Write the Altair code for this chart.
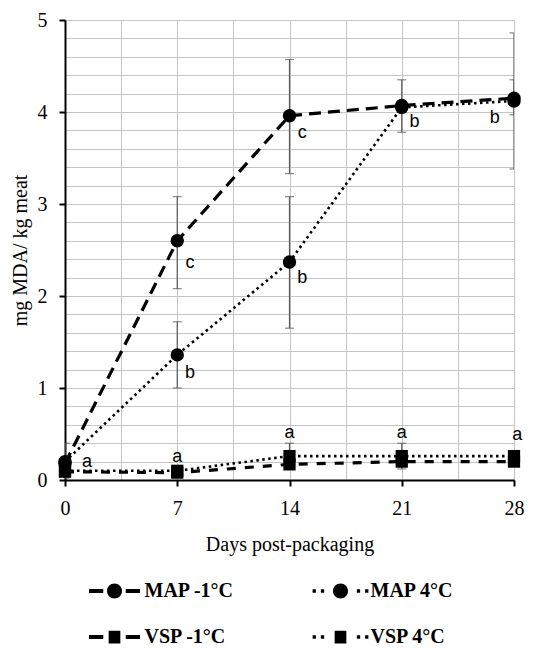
import altair as alt
import pandas as pd

# ---------------- data ----------------
days = [0, 7, 14, 21, 28]
series_names = ["MAP -1°C", "MAP 4°C", "VSP -1°C", "VSP 4°C"]
map_m1 = [0.18, 2.60, 3.96, 4.07, 4.15]
map_4 = [0.20, 1.36, 2.37, 4.05, 4.12]
vsp_m1 = [0.09, 0.08, 0.17, 0.20, 0.20]
vsp_4 = [0.10, 0.10, 0.26, 0.26, 0.26]

err_series = ["MAP -1°C", "MAP -1°C", "MAP -1°C", "MAP -1°C", "MAP -1°C",
              "MAP 4°C", "MAP 4°C", "MAP 4°C", "VSP 4°C", "VSP 4°C"]
err_day = [0, 7, 14, 21, 28, 7, 14, 28, 14, 21]
err_low = [0.02, 2.08, 3.33, 3.78, 3.38, 1.00, 1.65, 3.97, 0.12, 0.12]
err_high = [0.40, 3.08, 4.57, 4.35, 4.86, 1.72, 3.08, 4.35, 0.40, 0.40]

let_text = ["a", "a", "a", "a", "a", "c", "b", "c", "b", "b", "b"]
let_day = [1.37, 7.0, 14.0, 21.0, 28.2, 7.8, 7.8, 14.8, 14.8, 21.8, 26.8]
let_val = [0.20, 0.25, 0.51, 0.51, 0.49, 2.36, 1.16, 3.77, 2.20, 3.89, 3.93]

x_grid = [0, 3.5, 7, 10.5, 14, 17.5, 21, 24.5, 28]
y_grid = [0, 0.2, 0.4, 0.6, 0.8, 1, 1.2, 1.4, 1.6, 1.8, 2, 2.2, 2.4, 2.6, 2.8,
          3, 3.2, 3.4, 3.6, 3.8, 4, 4.2, 4.4, 4.6, 4.8, 5]

rows = []
for name, vals in zip(series_names, [map_m1, map_4, vsp_m1, vsp_4]):
    for d, v in zip(days, vals):
        rows.append({"series": name, "day": d, "value": v})
df = pd.DataFrame(rows)
err_df = pd.DataFrame({"series": err_series, "day": err_day, "lo": err_low, "hi": err_high})
let_df = pd.DataFrame({"letter": let_text, "day": let_day, "value": let_val})

SERIF = "Liberation Serif"

# legend symbols (custom paths, unit coords scaled by sqrt(size)/2)
circ = "M-1,0 A1,1 0 1,0 1,0 A1,1 0 1,0 -1,0 Z"
sq = "M-0.78,-0.85 L0.78,-0.85 L0.78,0.85 L-0.78,0.85 Z"
dashes = "M-3.4,-0.27 L-1.5,-0.27 L-1.5,0.27 L-3.4,0.27 Z M1.5,-0.27 L3.4,-0.27 L3.4,0.27 L1.5,0.27 Z"
def dot(cx):
    return f"M{cx-0.22},-0.22 L{cx+0.22},-0.22 L{cx+0.22},0.22 L{cx-0.22},0.22 Z"
dots = " ".join(dot(c) for c in [-3.5, -2.4, 2.4, 3.5])
legend_paths = [dashes + " " + circ, dots + " " + circ, dashes + " " + sq, dots + " " + sq]

x_scale = alt.Scale(domain=[0, 28], nice=False, zero=False)
y_scale = alt.Scale(domain=[0, 5], nice=False)

x_axis = alt.Axis(
    values=x_grid, tickCount=len(x_grid), labelExpr="datum.value % 7 == 0 ? datum.label : ''",
    grid=True, gridColor="#c4c4c4", gridWidth=1,
    domainColor="black", domainWidth=2,
    tickColor="black", tickWidth=2, tickSize=6,
    tickOpacity={"condition": {"test": "datum.value % 7 == 0", "value": 1}, "value": 0},
    labelFont=SERIF, labelFontSize=20, labelColor="black", labelPadding=12,
    labelFlush=False, labelOverlap=False,
    title="Days post-packaging", titleFont=SERIF, titleFontSize=20,
    titleFontWeight="normal", titleColor="black", titlePadding=16,
)
y_axis = alt.Axis(
    values=y_grid, tickCount=len(y_grid),
    labelExpr="abs(datum.value - round(datum.value)) < 0.001 ? format(datum.value, 'd') : ''",
    grid=True, gridColor="#c4c4c4", gridWidth=1,
    domainColor="black", domainWidth=2,
    tickColor="black", tickWidth=2, tickSize=6,
    tickOpacity={"condition": {"test": "abs(datum.value - round(datum.value)) < 0.001", "value": 1}, "value": 0},
    labelFont=SERIF, labelFontSize=20, labelColor="black", labelPadding=12,
    labelFlush=False, labelOverlap=False,
    title="mg MDA/ kg meat", titleFont=SERIF, titleFontSize=20,
    titleFontWeight="normal", titleColor="black", titlePadding=7,
)

X = alt.X("day:Q", scale=x_scale, axis=x_axis)
Y = alt.Y("value:Q", scale=y_scale, axis=y_axis)

ERR = "#555555"
err_rule = alt.Chart(err_df).mark_rule(color=ERR, strokeWidth=1.2, clip=True).encode(
    x=alt.X("day:Q", scale=x_scale), y=alt.Y("lo:Q", scale=y_scale), y2="hi:Q")
err_top = alt.Chart(err_df).mark_tick(color=ERR, thickness=1.2, size=9, orient="horizontal", clip=True).encode(
    x=alt.X("day:Q", scale=x_scale), y=alt.Y("hi:Q", scale=y_scale))
err_bot = alt.Chart(err_df).mark_tick(color=ERR, thickness=1.2, size=9, orient="horizontal", clip=True).encode(
    x=alt.X("day:Q", scale=x_scale), y=alt.Y("lo:Q", scale=y_scale))

line_styles = {
    "MAP -1°C": ([12, 7], 3.2),
    "MAP 4°C": ([2.5, 3.5], 2.6),
    "VSP -1°C": ([9, 9], 3.2),
    "VSP 4°C": ([2.5, 3.5], 2.6),
}
line_layers = []
for name in series_names:
    dash, w = line_styles[name]
    line_layers.append(
        alt.Chart(df).transform_filter(alt.datum.series == name).mark_line(
            color="black", strokeDash=dash, strokeWidth=w, strokeCap="butt").encode(x=X, y=Y)
    )

circles = alt.Chart(df).transform_filter("indexof(datum.series, 'MAP') == 0").mark_point(
    filled=True, shape="circle", size=180, color="black", opacity=1).encode(x=X, y=Y)
squares = alt.Chart(df).transform_filter("indexof(datum.series, 'VSP') == 0").mark_point(
    filled=True, shape="square", size=150, color="black", opacity=1).encode(x=X, y=Y)

letters = alt.Chart(let_df).mark_text(font="Liberation Sans", fontSize=18, color="black",
                                       align="center", baseline="middle").encode(
    x=alt.X("day:Q", scale=x_scale), y=alt.Y("value:Q", scale=y_scale), text="letter:N")

legend_layer = alt.Chart(df).mark_point(
    filled=True, color="black", size=225, opacity=0).encode(
    x=X, y=Y,
    shape=alt.Shape("series:N", scale=alt.Scale(domain=series_names, range=legend_paths),
                    legend=alt.Legend(title=None, orient="none", legendX=39.5, legendY=561,
                                      direction="horizontal", columns=2,
                                      columnPadding=78, rowPadding=26,
                                      symbolSize=225, symbolStrokeWidth=0,
                                      symbolFillColor="black", symbolOpacity=1,
                                      labelFont=SERIF, labelFontWeight="bold",
                                      labelFontSize=20, labelColor="black",
                                      labelOffset=20, padding=0, labelLimit=300)),
)

chart = alt.layer(err_rule, err_top, err_bot, *line_layers, circles, squares, letters, legend_layer).properties(
    width=449, height=460,
    autosize=alt.AutoSizeParams(type="none"),
    padding={"left": 57, "top": 12, "right": 15, "bottom": 168},
    background="white",
).configure_view(strokeWidth=0)

chart.save("out.html", embed_options={"renderer": "svg", "actions": False})
